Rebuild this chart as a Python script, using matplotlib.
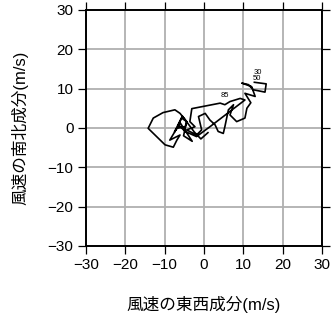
import numpy as np
import matplotlib
matplotlib.use("Agg")
import matplotlib.pyplot as plt

plt.rcParams['font.family'] = ['Liberation Sans', 'Noto Sans CJK JP', 'DejaVu Sans']

# 風速の東西成分 (u) と南北成分 (v), m/s
u = [12.8, 15.8, 15.5, 12.5, 11.3, 9.6, 12.1, 13.0, 10.4, 11.9, 10.9, 10.4, 8.3,
     6.6, 7.5, 6.2, 5.3, 4.9, 3.6, 2.8, 1.5, 0.3, -1.4, -0.6, -1.9, -4.4, -2.3,
     -3.6, -3.1, 4.1, 5.3, 6.6, 9.2, 10.4, 1.5, -1.9, -4.8, -6.5, -5.7, -4.4,
     -4.8, -6.9, -8.7, -6.1, -6.9, -7.8, -9.9, -14.2, -12.9, -10.4, -7.4, -6.1,
     -4.4, -5.2, -3.0, -6.0, -7.5, -5.5, -2.5, -0.8, 1.0]
v = [11.6, 11.2, 9.1, 9.7, 11.0, 11.4, 10.5, 8.0, 8.8, 6.4, 5.0, 2.5, 1.6,
     3.3, 5.9, 4.6, 0.3, -1.4, -0.9, 0.8, 2.0, 3.7, 2.9, -0.5, -1.8, -0.5, 0.3,
     1.6, 4.9, 6.3, 5.9, 6.7, 7.5, 7.1, 0.3, -2.2, -0.9, 0.8, 2.5, 1.6,
     0.3, -0.1, -3.1, -1.8, -3.1, -4.9, -4.3, -0.1, 2.5, 3.9, 4.6, 3.7,
     1.6, -2.0, -3.4, 1.2, -1.0, 3.0, -1.0, -2.8, -1.2]

# 高度ラベル
lab_text = ['30', '50', '85']
lab_u = [13.6, 13.4, 5.3]
lab_v = [13.2, 11.6, 7.4]

ticks = [-30, -20, -10, 0, 10, 20, 30]

fig = plt.figure(figsize=(3.32, 3.19), dpi=100)
ax = fig.add_axes([0.259, 0.229, 0.711, 0.740])

ax.plot(u, v, color='black', lw=1.2, zorder=3)
for t, x, y in zip(lab_text, lab_u, lab_v):
    ax.text(x, y, t, fontsize=5.5, ha='center', va='bottom', zorder=4)

ax.set_xlim(-30, 30)
ax.set_ylim(-30, 30)
ax.set_xticks(ticks)
ax.set_yticks(ticks)
ax.set_xticklabels([str(t).replace('-', '\u2212') for t in ticks])
ax.set_yticklabels([str(t).replace('-', '\u2212') for t in ticks])
ax.grid(True, color='#b0b0b0', lw=1.3)
ax.set_axisbelow(True)
for s in ax.spines.values():
    s.set_linewidth(1.4)
ax.tick_params(direction='out', length=6, width=0.9, labelsize=11, pad=3,
               top=True, right=True)

ax.set_xlabel('風速の東西成分(m/s)', fontsize=12, labelpad=17)
ax.set_ylabel('風速の南北成分(m/s)', fontsize=12, labelpad=14)

fig.savefig('out.png', dpi=100)
